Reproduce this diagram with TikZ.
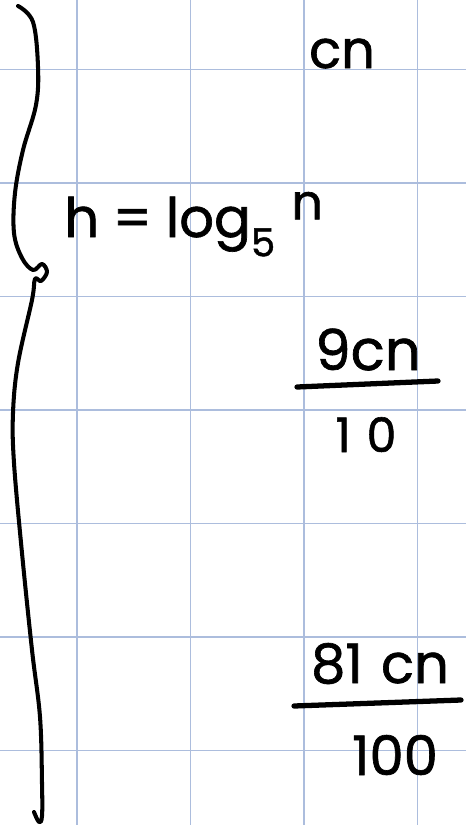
\documentclass[tikz,border=0pt]{standalone}
\usepackage{fontspec}
\setmainfont{Poppins}
\newfontfamily\handfont{Poppins}[FakeBold=1.2]
\definecolor{gridblue}{RGB}{172,189,221}
\begin{document}
\begin{tikzpicture}[x=0.02cm,y=-0.02cm,
 ink/.style={line width=2.3pt,line cap=round,line join=round},
 bar/.style={line width=3pt,line cap=round},
 gridline/.style={draw=gridblue,line width=0.9pt},
 hand/.style={inner sep=0pt,anchor=base,font=\handfont\fontsize{30}{36}\selectfont}]
\useasboundingbox (0,0) rectangle (466,825);
% squared paper
\foreach \gx in {77,190.5,304,417.5}
  \draw[gridline] (\gx,0) -- (\gx,825);
\foreach \gy in {69.5,183,296.5,410,523.5,637,750.5}
  \draw[gridline] (0,\gy) -- (466,\gy);
% the long brace on the left
\draw[ink] plot[smooth,tension=0.6] coordinates {(18,6) (33,22) (38,67) (36,105) (23,150) (15,193) (14,233)
  (22,258) (33,270) (42,264) (47,272) (41,281) (35,279) (32,300) (18,363) (13,413) (14,463) (22,553)
  (32,650) (40,717) (42,783) (42,816) (39,822) (34,812)};
% labels
\node[hand] (cn) at (342,68) {cn};
\node[hand,anchor=base west,font=\handfont\fontsize{31}{36}\selectfont] (height) at (64,237)
  {h\hspace{0.25em}=\hspace{0.25em}log\raisebox{-11pt}{\fontsize{22}{26}\selectfont 5}\hspace{0.3em}\raisebox{10pt}{\fontsize{28}{32}\selectfont n}};
\node[hand,font=\handfont\fontsize{32}{38}\selectfont] (numA) at (368,370) {9cn};
\node[hand,font=\handfont\fontsize{27}{32}\selectfont] (denA) at (366,452) {1\,\,0};
\node[hand,font=\handfont\fontsize{31}{36}\selectfont] (numB) at (380,683) {81\,\,cn};
\node[hand,font=\handfont\fontsize{31}{36}\selectfont] (denB) at (395,775) {100};
% fraction bars
\draw[bar] (297,387) -- (438,381);
\draw[bar] (294,706) -- (461,700);
\end{tikzpicture}
\end{document}
